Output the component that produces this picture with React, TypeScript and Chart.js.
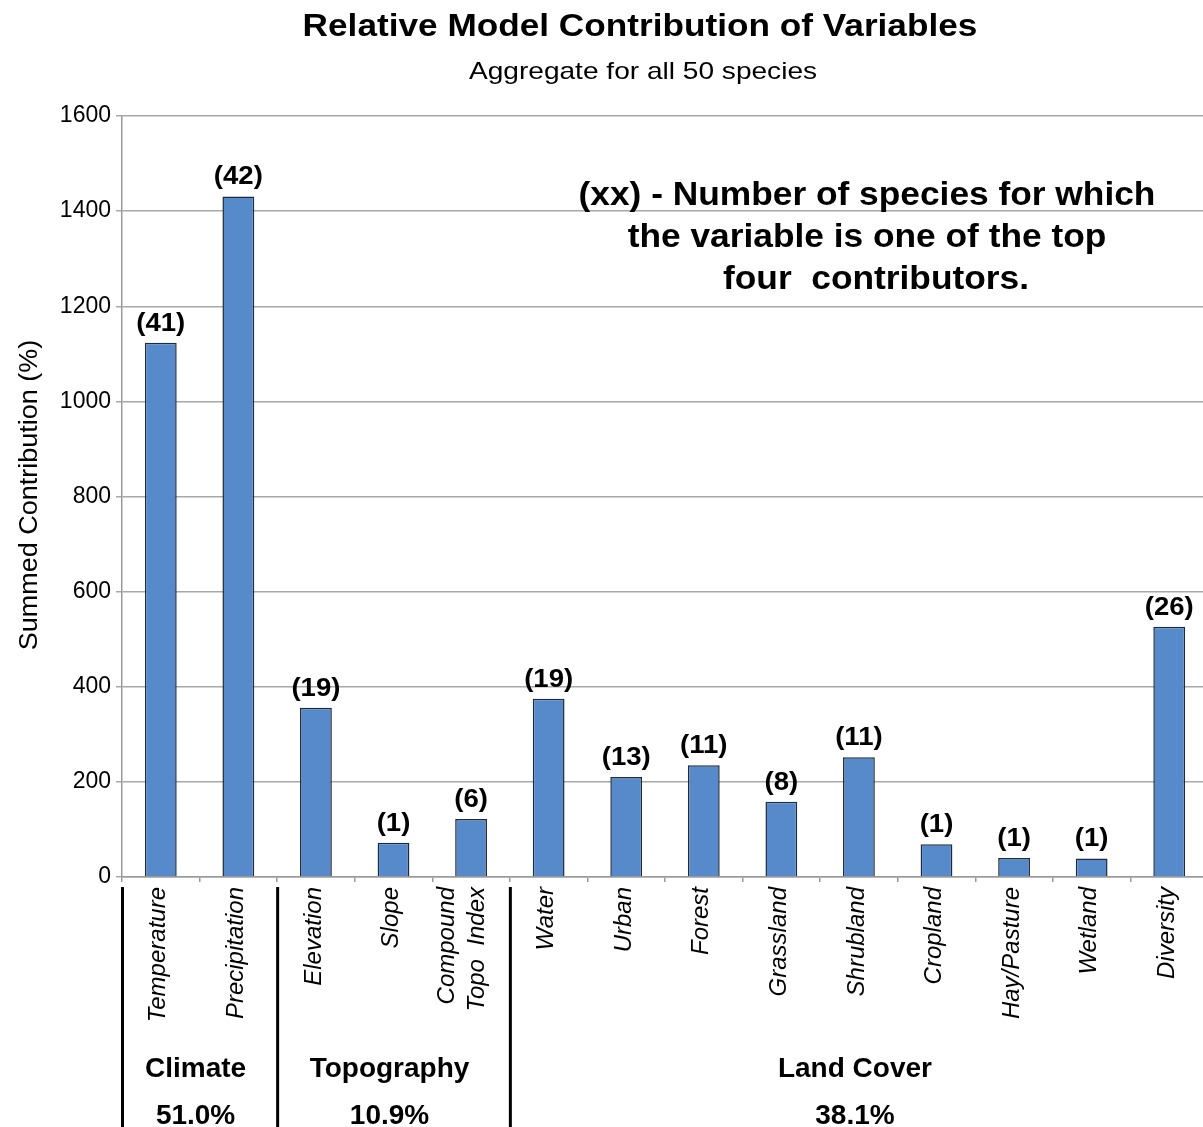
import React, { useEffect, useRef } from "react";
import { Chart, registerables } from "chart.js";

Chart.register(...registerables);

const categories = [
  "Temperature",
  "Precipitation",
  "Elevation",
  "Slope",
  "Compound Topo Index",
  "Water",
  "Urban",
  "Forest",
  "Grassland",
  "Shrubland",
  "Cropland",
  "Hay/Pasture",
  "Wetland",
  "Diversity",
];
const tickLabelLines = [
  ["Temperature"],
  ["Precipitation"],
  ["Elevation"],
  ["Slope"],
  ["Compound", "Topo  Index"],
  ["Water"],
  ["Urban"],
  ["Forest"],
  ["Grassland"],
  ["Shrubland"],
  ["Cropland"],
  ["Hay/Pasture"],
  ["Wetland"],
  ["Diversity"],
];
const contributions = [1123, 1431, 356, 72, 122, 375, 210, 235, 158, 252, 69, 40, 39, 526];
const speciesCounts = [41, 42, 19, 1, 6, 19, 13, 11, 8, 11, 1, 1, 1, 26];
const groupNames = ["Climate", "Topography", "Land Cover"];
const groupShares = ["51.0%", "10.9%", "38.1%"];
const groupFirst = [0, 2, 5];
const groupLast = [1, 4, 13];
const yMin = 0;
const yMax = 1600;
const yStep = 200;
const titleText = "Relative Model Contribution of Variables";
const subtitleText = "Aggregate for all 50 species";
const yTitleText = "Summed Contribution (%)";
const noteLines = [
  "(xx) - Number of species for which",
  "the variable is one of the top",
  "four  contributors.",
];

const FF = '"Liberation Sans", Arial, Helvetica, sans-serif';

function drawText(
  ctx: CanvasRenderingContext2D,
  s: string,
  x: number,
  y: number,
  font: string,
  sx = 1,
  align: CanvasTextAlign = "center",
  baseline: CanvasTextBaseline = "alphabetic",
  rot = 0
) {
  ctx.save();
  ctx.translate(x, y);
  if (rot) ctx.rotate(rot);
  ctx.scale(sx, 1);
  ctx.font = font;
  ctx.fillStyle = "#000";
  ctx.textAlign = align;
  ctx.textBaseline = baseline;
  ctx.fillText(s, 0, 0);
  ctx.restore();
}

const overlayPlugin = {
  id: "overlay",
  beforeDraw(chart: any) {
    const ctx = chart.ctx;
    ctx.save();
    ctx.fillStyle = "#fff";
    ctx.fillRect(0, 0, chart.width, chart.height);
    ctx.restore();
  },
  afterDraw(chart: any) {
    const ctx: CanvasRenderingContext2D = chart.ctx;
    const xs = chart.scales.x;
    const ys = chart.scales.y;
    const area = chart.chartArea;
    const catW = (area.right - area.left) / categories.length;

    // titles
    drawText(ctx, titleText, 640, 36, `bold 32px ${FF}`, 1.1);
    drawText(ctx, subtitleText, 643, 79, `24px ${FF}`, 1.17);

    // note
    const noteY = [205, 247, 289];
    const noteX = [867, 867, 876];
    noteLines.forEach((l, i) => drawText(ctx, l, noteX[i], noteY[i], `bold 33px ${FF}`, 1.07));

    // y-axis title
    drawText(ctx, yTitleText, 37, 495, `25px ${FF}`, 1.08, "center", "alphabetic", -Math.PI / 2);

    // value labels
    contributions.forEach((v, i) => {
      const px = xs.getPixelForValue(i);
      const py = ys.getPixelForValue(v);
      drawText(ctx, `(${speciesCounts[i]})`, px, py - 12, `bold 26px ${FF}`, 1.06);
    });

    // category labels (rotated)
    tickLabelLines.forEach((lines, i) => {
      const px = xs.getPixelForValue(i);
      const top = area.bottom + 10;
      if (lines.length === 1) {
        drawText(ctx, lines[0], px - 2, top, `italic 24px ${FF}`, 1, "right", "middle", -Math.PI / 2);
      } else {
        const offs = [-24, 6];
        lines.forEach((l, j) =>
          drawText(ctx, l, px + offs[j], top, `italic 24px ${FF}`, 1, "right", "middle", -Math.PI / 2)
        );
      }
    });

    // group separators and labels
    ctx.save();
    ctx.strokeStyle = "#000";
    ctx.lineWidth = 3;
    groupFirst.forEach((g) => {
      const sx = xs.getPixelForValue(g) - catW / 2 + 0.5;
      ctx.beginPath();
      ctx.moveTo(sx, area.bottom + 10);
      ctx.lineTo(sx, chart.height);
      ctx.stroke();
    });
    ctx.restore();
    groupNames.forEach((name, k) => {
      const cx = (xs.getPixelForValue(groupFirst[k]) + xs.getPixelForValue(groupLast[k])) / 2 - 4;
      drawText(ctx, name, cx, 1077, `bold 28px ${FF}`, 1);
      drawText(ctx, groupShares[k], cx, 1124, `bold 28px ${FF}`, 1);
    });
  },
};

export default function App() {
  const ref = useRef<HTMLCanvasElement | null>(null);
  useEffect(() => {
    if (!ref.current) return;
    const chart = new Chart(ref.current, {
      type: "bar",
      data: {
        labels: categories,
        datasets: [
          {
            data: contributions,
            backgroundColor: "#578ACA",
            borderColor: "#1E2B3B",
            borderWidth: 1.5,
            categoryPercentage: 1,
            barPercentage: 0.41,
          },
        ],
      },
      options: {
        responsive: false,
        animation: false,
        devicePixelRatio: 1,
        layout: { padding: { top: 116, right: 2, bottom: 0, left: 0 } },
        plugins: {
          legend: { display: false },
          tooltip: { enabled: false },
          title: { display: false },
        },
        scales: {
          x: {
            offset: true,
            grid: {
              display: true,
              drawOnChartArea: false,
              drawTicks: true,
              tickLength: 5,
              color: "#9a9a9a",
              lineWidth: 1.5,
              offset: true,
            },
            border: { display: true, color: "#9a9a9a", width: 1.5 },
            ticks: { display: false },
            afterFit: (s: any) => {
              s.height = 250;
            },
          },
          y: {
            min: yMin,
            max: yMax,
            ticks: {
              stepSize: yStep,
              color: "#000",
              padding: 5,
              font: { family: FF, size: 23 },
              callback: (v: any) => String(v),
            },
            grid: { color: "#a8a8a8", lineWidth: 1.5, tickLength: 6 },
            border: { display: true, color: "#9a9a9a", width: 1.5 },
            afterFit: (s: any) => {
              s.width = 122;
            },
          },
        },
      },
      plugins: [overlayPlugin],
    } as any);
    return () => chart.destroy();
  }, []);
  return (
    <div
      style={{
        position: "fixed",
        left: 0,
        top: 0,
        width: 1203,
        height: 1127,
        overflow: "hidden",
        background: "#fff",
      }}
    >
      <canvas ref={ref} width={1210} height={1127} style={{ display: "block" }} />
    </div>
  );
}
